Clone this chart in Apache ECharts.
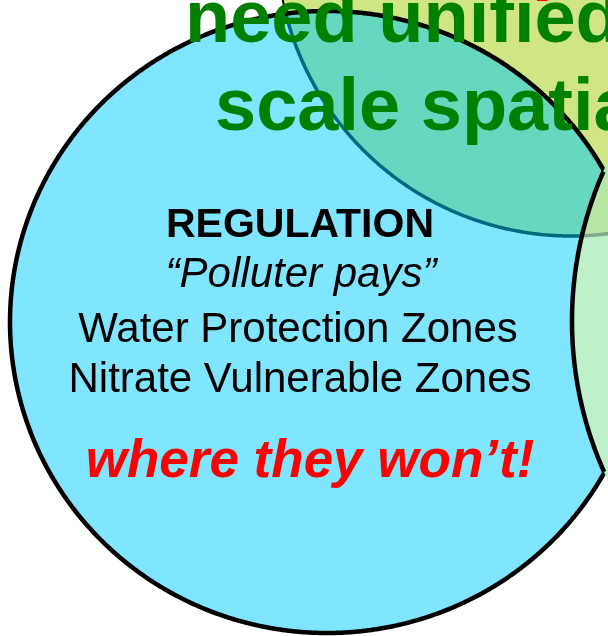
<!DOCTYPE html>
<html>
<head>
<meta charset="utf-8">
<script src="https://cdn.jsdelivr.net/npm/echarts@6/dist/echarts.min.js"></script>
<style>
  html, body { margin: 0; padding: 0; background: #fff; }
  #chart { width: 608px; height: 636px; }
</style>
</head>
<body>
<div id="chart"></div>
<script>
var myChart = echarts.init(document.getElementById('chart'));

// venn circles (data units == pixels on the hidden axes)
let circleNames = ['regulation', 'planning', 'incentives']
let circleX = [327, 571, 943]
let circleY = [322, -58, 321]
let circleRx = [317, 294, 371]
let circleRy = [311, 294, 371]

let titleLines = ['need unified', 'scale spatial']
let regulationLines = ['REGULATION', '“Polluter pays”', 'Water Protection Zones', 'Nitrate Vulnerable Zones']
let punchLine = 'where they won’t!'

const FONT = '"Liberation Sans", Arial, sans-serif'
const STEPS = 1440

function ringPoints(i) {
  let pts = []
  for (let k = 0; k < STEPS; k++) {
    let t = k / STEPS * Math.PI * 2
    pts.push([circleX[i] + circleRx[i] * Math.cos(t), circleY[i] + circleRy[i] * Math.sin(t)])
  }
  return pts
}

function isInside(i, p) {
  let dx = (p[0] - circleX[i]) / circleRx[i]
  let dy = (p[1] - circleY[i]) / circleRy[i]
  return dx * dx + dy * dy < 1
}

// part of circle a's outline that lies inside circle b, in order
function arcInside(a, b) {
  let pts = ringPoints(a)
  let flags = pts.map(p => isInside(b, p))
  let start = -1
  for (let k = 0; k < STEPS; k++) {
    if (flags[k] && !flags[(k - 1 + STEPS) % STEPS]) { start = k; break }
  }
  if (start < 0) return []
  let out = []
  for (let k = 0; k < STEPS; k++) {
    let idx = (start + k) % STEPS
    if (!flags[idx]) break
    out.push(pts[idx])
  }
  return out
}

function renderVenn(params, api) {
  const toPx = pts => pts.map(p => api.coord(p))
  const ring = i => toPx(ringPoints(i))
  const lens = (a, b) => toPx(arcInside(a, b).concat(arcInside(b, a)))

  return {
    type: 'group',
    children: [
      { type: 'polygon', shape: { points: ring(1) }, style: { fill: '#d0e584', stroke: '#000', lineWidth: 2 } },
      { type: 'polygon', shape: { points: ring(0) }, style: { fill: '#80e5ff', stroke: null } },
      { type: 'polygon', shape: { points: lens(0, 1) }, style: { fill: '#66d8bf', stroke: null } },
      { type: 'polyline', shape: { points: toPx(arcInside(1, 0)) }, style: { fill: null, stroke: '#006a80', lineWidth: 3.5 } },
      { type: 'polygon', shape: { points: ring(0) }, style: { fill: null, stroke: '#000', lineWidth: 4.5 } },
      { type: 'polygon', shape: { points: ring(2) }, style: { fill: '#bef0ca', stroke: null } },
      { type: 'polygon', shape: { points: lens(2, 1) }, style: { fill: '#b8e6a6', stroke: null } },
      { type: 'polyline', shape: { points: toPx(arcInside(1, 2)) }, style: { fill: null, stroke: '#80a98c', lineWidth: 3.5 } },
      { type: 'polyline', shape: { points: toPx(arcInside(2, 0)) }, style: { fill: null, stroke: '#000', lineWidth: 4.5 } }
    ]
  }
}

function textEl(text, x, y, font, fill, align) {
  return {
    type: 'text',
    x: x,
    y: y,
    z: 100,
    silent: true,
    style: { text: text, font: font, fill: fill, textAlign: align, textVerticalAlign: 'middle' }
  }
}

let option = {
  animation: false,
  grid: { left: 0, right: 0, top: 0, bottom: 0 },
  xAxis: { type: 'value', min: 0, max: 608, show: false },
  yAxis: { type: 'value', min: 0, max: 636, inverse: true, show: false },
  series: [{
    type: 'custom',
    name: circleNames.join(' / '),
    silent: true,
    z: 1,
    data: [[0]],
    renderItem: renderVenn
  }],
  graphic: { elements: [
    textEl('!', 534, -19, 'italic bold 74px ' + FONT, '#ff0000', 'left'),
    textEl(titleLines[0], 185, 22, 'bold 74px ' + FONT, '#008000', 'left'),
    textEl(titleLines[1], 215, 110, 'bold 74px ' + FONT, '#008000', 'left'),
    textEl(regulationLines[0], 300, 225.5, 'bold 41px ' + FONT, '#000', 'center'),
    textEl(regulationLines[1], 301, 275, 'italic 42px ' + FONT, '#000', 'center'),
    textEl(regulationLines[2], 298, 330, '42px ' + FONT, '#000', 'center'),
    textEl(regulationLines[3], 300, 380, '42px ' + FONT, '#000', 'center'),
    textEl(punchLine, 310, 462.5, 'italic bold 53px ' + FONT, '#ff0000', 'center')
  ] }
}

myChart.setOption(option)
</script>
</body>
</html>
